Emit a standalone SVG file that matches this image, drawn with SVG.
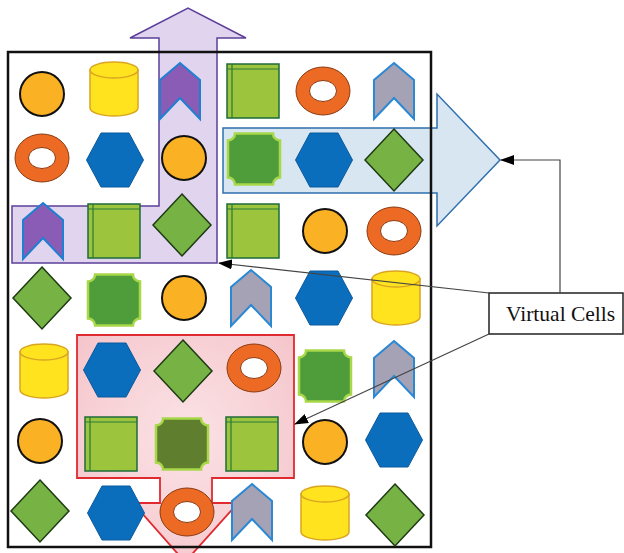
<svg xmlns="http://www.w3.org/2000/svg" xmlns:xlink="http://www.w3.org/1999/xlink" width="624" height="553" viewBox="0 0 624 553">
  <style>
    .circ { fill: #fbb124; stroke: #111; stroke-width: 2; }
    .ring-o { fill: #ec6a24; stroke: #8a3a12; stroke-width: 1; }
    .ring-i { fill: #ffffff; stroke: #8a3a12; stroke-width: 1; }
    .cyl { fill: #ffe31f; stroke: #d9a520; stroke-width: 1.5; }
    .hex { fill: #0b6ebd; stroke: #0a5a9e; stroke-width: 1; }
    .chev-p { fill: #8b5cb5; stroke: #1f7fd0; stroke-width: 2; }
    .chev-g { fill: #a4a2b4; stroke: #2a88d4; stroke-width: 2; }
    .sq { fill: #9cc43c; stroke: #1e6b3a; stroke-width: 1.5; }
    .sq-line { stroke: #2a7a3a; stroke-width: 1.2; fill: none; }
    .plq { fill: #4f9c3b; stroke: #a8d84a; stroke-width: 2.5; }
    .plq-d { fill: #5f7f2e; stroke: #a8d84a; stroke-width: 2.5; }
    .dia { fill: #76b244; stroke: #1d3a12; stroke-width: 1.5; }
    .conn { fill: none; stroke: #444; stroke-width: 1.2; }
    .label { font-family: "Liberation Serif", "Times New Roman", serif; font-size: 21.5px; fill: #111; }
  </style>
  <defs>
    <marker id="arrow" viewBox="0 0 14 10" refX="13" refY="5" markerWidth="14" markerHeight="10" markerUnits="userSpaceOnUse" orient="auto">
      <path d="M0,0 L14,5 L0,10 Z" fill="#000"/>
    </marker>
    <g id="circle"><circle r="22" class="circ"/></g>
    <g id="ring">
      <ellipse rx="27" ry="24" class="ring-o"/>
      <ellipse rx="13.5" ry="10.5" class="ring-i"/>
    </g>
    <g id="cylinder">
      <path d="M-24,-19 V19 A24,8 0 0 0 24,19 V-19 Z" class="cyl"/>
      <ellipse cy="-19" rx="24" ry="8" class="cyl"/>
    </g>
    <g id="hexagon"><polygon points="-28.5,0 -14,-27 14,-27 28.5,0 14,27 -14,27" class="hex"/></g>
    <g id="chevron-p"><polygon points="0,-28 20,-11 20,28 0,7 -20,28 -20,-11" class="chev-p"/></g>
    <g id="chevron-g"><polygon points="0,-28 20,-11 20,28 0,7 -20,28 -20,-11" class="chev-g"/></g>
    <g id="square">
      <rect x="-26" y="-27" width="52" height="54" class="sq"/>
      <path d="M-26,-22 H26 M-21,-27 V27" class="sq-line"/>
    </g>
    <path id="plaque-shape" d="M-19,-25.5 H19 A7,7 0 0 0 26,-18.5 V18.5 A7,7 0 0 0 19,25.5 H-19 A7,7 0 0 0 -26,18.5 V-18.5 A7,7 0 0 0 -19,-25.5 Z"/>
    <g id="plaque"><use xlink:href="#plaque-shape" class="plq"/></g>
    <g id="plaque-dark"><use xlink:href="#plaque-shape" class="plq-d"/></g>
    <g id="diamond"><polygon points="0,-31 29,0 0,31 -29,0" class="dia"/></g>
    <radialGradient id="pinkFill" cx="50%" cy="45%" r="70%">
      <stop offset="0" stop-color="#fbe3e6"/>
      <stop offset="1" stop-color="#f4c4ca"/>
    </radialGradient>
  </defs>

  <!-- highlighted regions (drawn beneath the cells) -->
  <g id="purple-region">
    <path d="M12,206 L159,206 L159,38 L130,38 L188,8 L246,38 L217,38 L217,263 L12,263 Z" fill="#e0d4ee" stroke="#5c3f99" stroke-width="1.5"/>
  </g>
  <g id="blue-region">
    <path d="M223,128 L437,128 L437,94 L500,160 L437,226 L437,193 L223,193 Z" fill="#d8e6f2" stroke="#2f6fad" stroke-width="1.5"/>
  </g>
  <g id="pink-region">
    <path d="M77,335 L294,335 L294,478 L212,478 L212,503 L238,503 L185,562 L133,503 L160,503 L160,478 L77,478 Z" fill="url(#pinkFill)" stroke="#e02a30" stroke-width="1.8"/>
  </g>

  <!-- outer frame -->
  <rect id="frame" x="8" y="52" width="423" height="495" fill="none" stroke="#111" stroke-width="2.5"/>

  <!-- row 1 -->
  <g id="r1c1"><use xlink:href="#circle" x="42" y="94"/></g>
  <g id="r1c2"><use xlink:href="#cylinder" x="114" y="89"/></g>
  <g id="r1c3"><use xlink:href="#chevron-p" x="180" y="91"/></g>
  <g id="r1c4"><use xlink:href="#square" x="253" y="91"/></g>
  <g id="r1c5"><use xlink:href="#ring" x="323" y="91"/></g>
  <g id="r1c6"><use xlink:href="#chevron-g" x="394" y="91"/></g>
  <!-- row 2 -->
  <g id="r2c1"><use xlink:href="#ring" x="42" y="158"/></g>
  <g id="r2c2"><use xlink:href="#hexagon" x="115" y="160"/></g>
  <g id="r2c3"><use xlink:href="#circle" x="184" y="158"/></g>
  <g id="r2c4"><use xlink:href="#plaque" x="254" y="159"/></g>
  <g id="r2c5"><use xlink:href="#hexagon" x="324" y="160"/></g>
  <g id="r2c6"><use xlink:href="#diamond" x="394" y="160"/></g>
  <!-- row 3 -->
  <g id="r3c1"><use xlink:href="#chevron-p" x="43" y="231"/></g>
  <g id="r3c2"><use xlink:href="#square" x="114" y="231"/></g>
  <g id="r3c3"><use xlink:href="#diamond" x="182" y="225"/></g>
  <g id="r3c4"><use xlink:href="#square" x="253" y="231"/></g>
  <g id="r3c5"><use xlink:href="#circle" x="325" y="231"/></g>
  <g id="r3c6"><use xlink:href="#ring" x="394" y="231"/></g>
  <!-- row 4 -->
  <g id="r4c1"><use xlink:href="#diamond" x="42" y="298"/></g>
  <g id="r4c2"><use xlink:href="#plaque" x="114" y="300"/></g>
  <g id="r4c3"><use xlink:href="#circle" x="184" y="298"/></g>
  <g id="r4c4"><use xlink:href="#chevron-g" x="251" y="298"/></g>
  <g id="r4c5"><use xlink:href="#hexagon" x="324" y="298"/></g>
  <g id="r4c6"><use xlink:href="#cylinder" x="396" y="298"/></g>
  <!-- row 5 -->
  <g id="r5c1"><use xlink:href="#cylinder" x="44" y="371"/></g>
  <g id="r5c2"><use xlink:href="#hexagon" x="112" y="370"/></g>
  <g id="r5c3"><use xlink:href="#diamond" x="183" y="371"/></g>
  <g id="r5c4"><use xlink:href="#ring" x="254" y="368"/></g>
  <g id="r5c5"><use xlink:href="#plaque" x="325" y="376"/></g>
  <g id="r5c6"><use xlink:href="#chevron-g" x="394" y="369"/></g>
  <!-- row 6 -->
  <g id="r6c1"><use xlink:href="#circle" x="40" y="441"/></g>
  <g id="r6c2"><use xlink:href="#square" x="111" y="444"/></g>
  <g id="r6c3"><use xlink:href="#plaque-dark" x="182" y="444"/></g>
  <g id="r6c4"><use xlink:href="#square" x="252" y="444"/></g>
  <g id="r6c5"><use xlink:href="#circle" x="325" y="442"/></g>
  <g id="r6c6"><use xlink:href="#hexagon" x="394" y="440"/></g>
  <!-- row 7 -->
  <g id="r7c1"><use xlink:href="#diamond" x="40" y="511"/></g>
  <g id="r7c2"><use xlink:href="#hexagon" x="116" y="513"/></g>
  <g id="r7c3"><use xlink:href="#ring" x="187" y="512"/></g>
  <g id="r7c4"><use xlink:href="#chevron-g" x="252" y="512"/></g>
  <g id="r7c5"><use xlink:href="#cylinder" x="325" y="513"/></g>
  <g id="r7c6"><use xlink:href="#diamond" x="395" y="515"/></g>

  <!-- label -->
  <g id="virtual-cells">
    <rect x="489" y="293" width="134" height="41" fill="#fff" stroke="#222" stroke-width="1.5"/>
    <text x="506" y="321" class="label">Virtual Cells</text>
  </g>

  <!-- connectors from the label to each highlighted region -->
  <g id="connectors">
    <polyline points="560,293 560,160 501,160" class="conn" marker-end="url(#arrow)"/>
    <line x1="489" y1="293" x2="219" y2="263" class="conn" marker-end="url(#arrow)"/>
    <line x1="489" y1="334" x2="295" y2="424" class="conn" marker-end="url(#arrow)"/>
  </g>
</svg>
